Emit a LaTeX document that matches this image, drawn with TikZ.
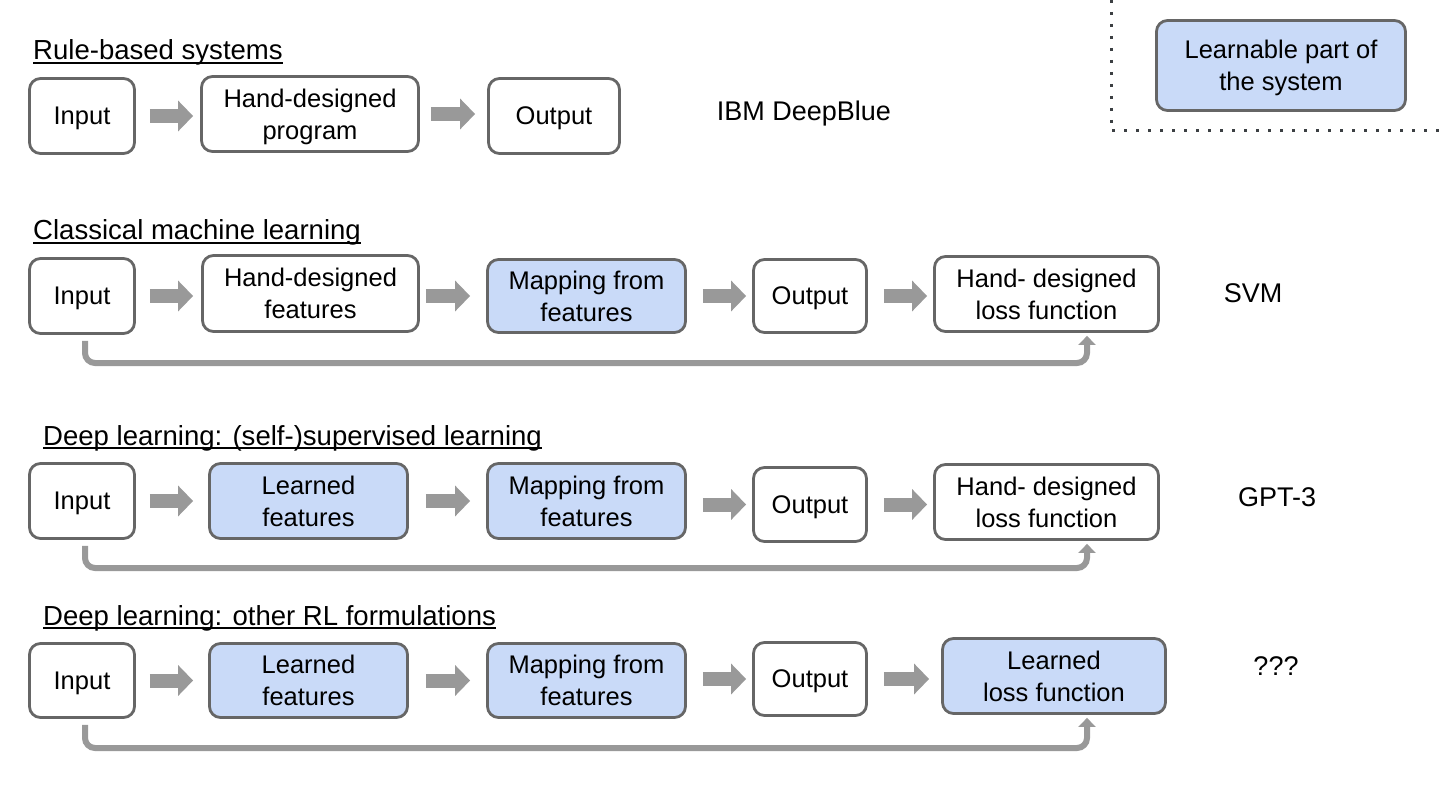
\documentclass[tikz,border=0pt]{standalone}
\usepackage{fontspec}
\setmainfont{Liberation Sans}
\usetikzlibrary{arrows.meta,calc}
\definecolor{boxline}{HTML}{666666}
\definecolor{learn}{HTML}{C9DAF8}
\definecolor{arrowgray}{HTML}{999999}
\definecolor{dotc}{HTML}{3C4043}
\newcommand\bxfont{\fontsize{25.5}{32}\selectfont}
\newcommand\tlfont{\fontsize{27}{32}\selectfont}
\newcommand\hdfont{\fontsize{27.55}{32}\selectfont}
\begin{document}
\begin{tikzpicture}[x=1pt,y=-1pt,
  box/.style={draw=boxline, line width=2.8pt, rounded corners=11pt, fill=white,
    align=center, inner sep=0pt, text depth=0pt, font=\bxfont},
  lbox/.style={box, fill=learn},
  bigarrow/.style={draw=arrowgray, line width=14pt, -{Triangle[length=15pt,width=30pt]}},
  fb/.style={draw=arrowgray, line width=6pt, rounded corners=10pt, -{Triangle[length=9pt,width=17pt]}},
  ttl/.style={anchor=base west, inner sep=0pt, font=\hdfont},
  uline/.style={draw=black, line width=1.8pt},
  side/.style={font=\tlfont, inner sep=0pt},
  dots/.style={draw=dotc, line width=3pt, dash pattern=on 3pt off 9pt}
]
\useasboundingbox (0,0) rectangle (1440,810);

% legend
\draw[dots] (1111,0) -- (1111,131) -- (1440,131);
\node[lbox, minimum width=249pt, minimum height=90pt] (leg) at (1281,65.5) {Learnable part of\\the system};

% titles
\node[ttl] (t1) at (33,60) {Rule-based systems};
\node[ttl] (t2) at (33,240) {Classical machine learning};
\node[ttl] (t3) at (43,445) {Deep learning: (self-)supervised learning};
\node[ttl] (t4) at (43,625) {Deep learning: other RL formulations};
\foreach \t in {t1,t2,t3,t4}{
  \draw[uline] ([yshift=-3pt]\t.base west) -- ([yshift=-3pt]\t.base east);
}

% row 1
\node[box, minimum width=105pt, minimum height=75pt] (in1) at (82,116) {Input};
\node[box, minimum width=217pt, minimum height=75pt] (hp1) at (310,114) {Hand-designed\\program};
\node[box, minimum width=131pt, minimum height=75pt] (out1) at (554,116) {Output};
\node[side] (l1) at (804,114) {IBM DeepBlue};
\draw[bigarrow] ([xshift=14pt]in1.east) -- ([xshift=-7pt]in1.east -| hp1.west);
\draw[bigarrow] ([xshift=11pt]hp1.east) -- ([xshift=-12pt]hp1.east -| out1.west);

% row 2
\node[box, minimum width=105pt, minimum height=75pt] (in2) at (82,296) {Input};
\node[box, minimum width=216pt, minimum height=76pt] (hf2) at (310.5,293.5) {Hand-designed\\features};
\node[lbox, minimum width=198pt, minimum height=73pt] (mf2) at (586.5,296) {Mapping from\\features};
\node[box, minimum width=113pt, minimum height=73pt] (out2) at (810,296) {Output};
\node[box, minimum width=224pt, minimum height=75pt] (hl2) at (1046.5,294) {Hand- designed\\loss function};
\node[side] (l2) at (1253,293) {SVM};
\draw[bigarrow] ([xshift=14pt]in2.east) -- ([xshift=-8pt]in2.east -| hf2.west);
\draw[bigarrow] ([xshift=6pt]hf2.east |- mf2.west) -- ([xshift=-16pt]mf2.west);
\draw[bigarrow] ([xshift=16pt]mf2.east) -- ([xshift=-6pt]mf2.east -| out2.west);
\draw[bigarrow] ([xshift=16pt]out2.east) -- ([xshift=-6pt]out2.east -| hl2.west);
\coordinate (c2) at (1087,363);
\draw[fb] ([xshift=3pt,yshift=-6pt]in2.south) |- (c2) -- ([xshift=40.5pt,yshift=-3pt]hl2.south);

% row 3
\node[box, minimum width=105pt, minimum height=75pt] (in3) at (82,501) {Input};
\node[lbox, minimum width=198pt, minimum height=75pt] (lf3) at (308.5,501) {Learned\\features};
\node[lbox, minimum width=198pt, minimum height=75pt] (mf3) at (586.5,501) {Mapping from\\features};
\node[box, minimum width=113pt, minimum height=74pt] (out3) at (810,504.5) {Output};
\node[box, minimum width=224pt, minimum height=75pt] (hl3) at (1046.5,502) {Hand- designed\\loss function};
\node[side] (l3) at (1277,497) {GPT-3};
\draw[bigarrow] ([xshift=14pt]in3.east) -- ([xshift=-15pt]in3.east -| lf3.west);
\draw[bigarrow] ([xshift=17pt]lf3.east) -- ([xshift=-16pt]lf3.east -| mf3.west);
\draw[bigarrow] ([xshift=16pt]mf3.east |- out3.west) -- ([xshift=-6pt]out3.west);
\draw[bigarrow] ([xshift=16pt]out3.east) -- ([xshift=-6pt]out3.east -| hl3.west);
\coordinate (c3) at (1087,568);
\draw[fb] ([xshift=3pt,yshift=-6pt]in3.south) |- (c3) -- ([xshift=40.5pt,yshift=-3pt]hl3.south);

% row 4
\node[box, minimum width=105pt, minimum height=74pt] (in4) at (82,680.5) {Input};
\node[lbox, minimum width=198pt, minimum height=74pt] (lf4) at (308.5,680.5) {Learned\\features};
\node[lbox, minimum width=198pt, minimum height=74pt] (mf4) at (586.5,680.5) {Mapping from\\features};
\node[box, minimum width=113pt, minimum height=73pt] (out4) at (810,679) {Output};
\node[lbox, minimum width=223pt, minimum height=75pt] (ll4) at (1054,676) {Learned\\loss function};
\node[side] (l4) at (1276,666) {???};
\draw[bigarrow] ([xshift=14pt]in4.east) -- ([xshift=-15pt]in4.east -| lf4.west);
\draw[bigarrow] ([xshift=17pt]lf4.east) -- ([xshift=-16pt]lf4.east -| mf4.west);
\draw[bigarrow] ([xshift=16pt]mf4.east |- out4.west) -- ([xshift=-6pt]out4.west);
\draw[bigarrow] ([xshift=16pt]out4.east) -- ([xshift=-12pt]out4.east -| ll4.west);
\coordinate (c4) at (1087,748);
\draw[fb] ([xshift=3pt,yshift=-6pt]in4.south) |- (c4) -- ([xshift=33pt,yshift=-3pt]ll4.south);
\end{tikzpicture}
\end{document}
